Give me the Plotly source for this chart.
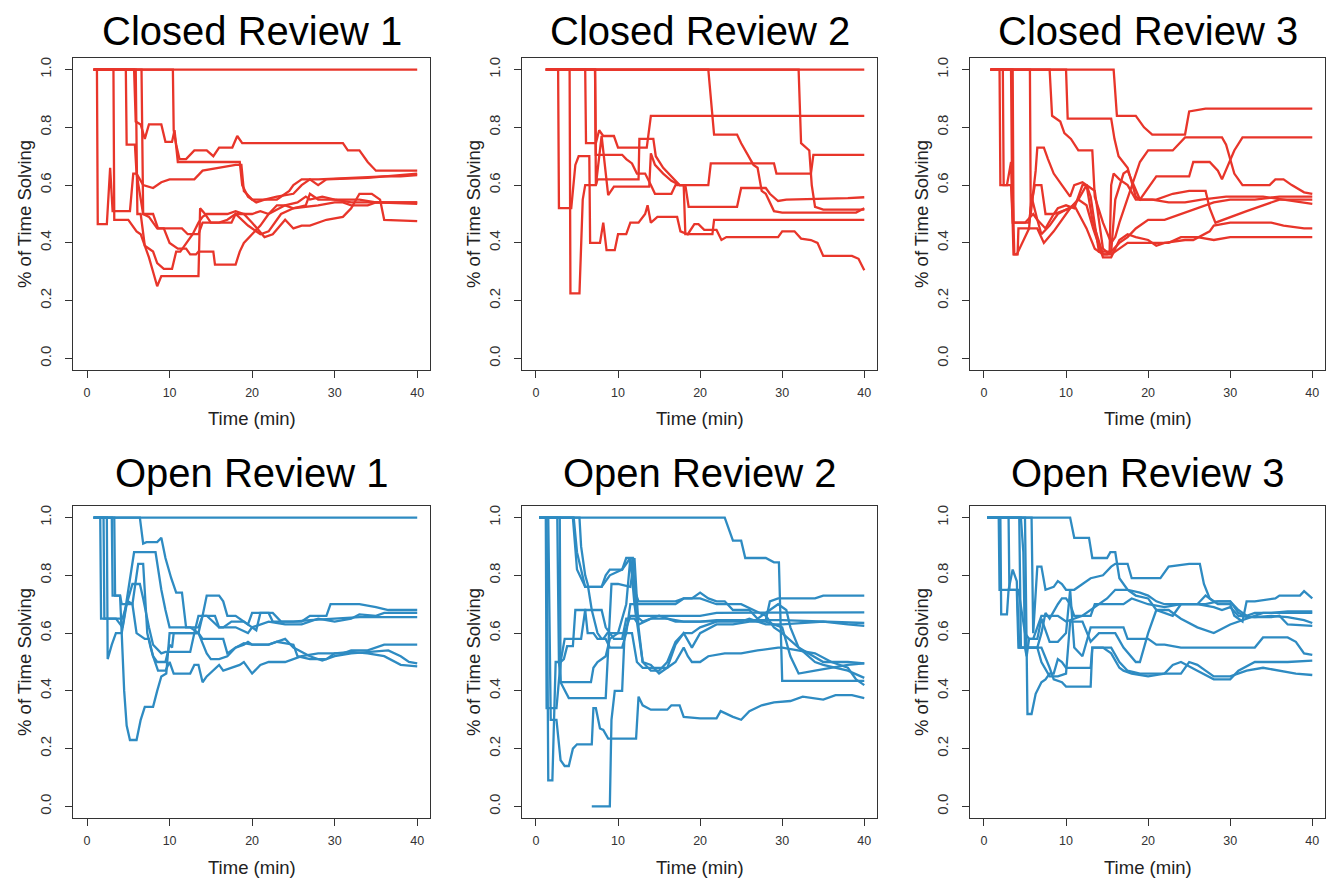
import plotly.graph_objects as go

# ---------------- data: (time in minutes, share of time solving) ----------------
# Closed Review 1
CR1_A_T = [0.8, 40]; CR1_A_V = [1, 1]
CR1_B_T = [0.8,10.4,10.5,10.8,11.2,12.0,13.0,14.5,15.3,16.0,17.6,18.2,18.8,31.0,31.6,33.0,34.0,35.0,40]
CR1_B_V = [1,1,0.79,0.74,0.69,0.69,0.72,0.72,0.70,0.73,0.73,0.77,0.745,0.745,0.72,0.72,0.68,0.65,0.65]
CR1_C_T = [0.8,4.7,4.8,5.8,6.0,6.4,6.8,8.0,9.0,10.0,13.0,14.0,18.0,18.7,19.0,20.0,21.5,23.0,25.0,26.0,27.0,28.0,29.0,34.0,40]
CR1_C_V = [1,1,0.74,0.74,0.64,0.62,0.60,0.59,0.61,0.62,0.62,0.65,0.67,0.67,0.58,0.55,0.55,0.56,0.57,0.60,0.62,0.60,0.62,0.625,0.64]
CR1_D_T = [0.8,5.7,5.9,6.5,7.0,7.5,9.0,9.5,10.3,10.6,11.0,18.5,18.8,19.5,20.5,21.5,23.0,24.5,25.0,26.0,27.0,28.0,36.0,38.0,40]
CR1_D_V = [1,1,0.82,0.81,0.76,0.81,0.81,0.75,0.75,0.79,0.68,0.68,0.60,0.56,0.54,0.55,0.55,0.58,0.60,0.62,0.62,0.62,0.63,0.63,0.635]
CR1_E_T = [0.8,1.2,1.3,2.4,2.8,3.1,5.2,5.6,6.0,6.4,6.8,8.0,8.6,11.5,12.2,13.5,14.0,17.5,18.0,19.5,21.0,22.0,23.5,25.0,26.5,27.0,28.0,30.0,33.0,35.0,36.5,40]
CR1_E_V = [1,1,0.465,0.465,0.66,0.51,0.51,0.64,0.64,0.57,0.50,0.50,0.45,0.45,0.43,0.43,0.47,0.47,0.50,0.46,0.43,0.44,0.50,0.52,0.53,0.57,0.55,0.55,0.55,0.54,0.54,0.54]
CR1_F_T = [0.8,3.2,3.3,5.0,6.0,6.5,7.0,8.0,8.5,9.3,10.3,10.8,11.3,12.0,12.8,13.5,14.0,14.5,16.0,17.0,18.0,19.0,20.0,21.0,22.0,23.0,24.0,25.0,28.0,30.0,31.0,32.0,34.0,35.0,40]
CR1_F_V = [1,1,0.48,0.48,0.44,0.43,0.39,0.37,0.33,0.31,0.31,0.37,0.37,0.40,0.43,0.47,0.49,0.50,0.50,0.50,0.51,0.50,0.50,0.51,0.50,0.53,0.53,0.52,0.53,0.54,0.54,0.53,0.53,0.54,0.535]
CR1_G_T = [0.8,5.9,6.1,6.5,7.0,7.5,8.0,8.5,9.0,13.5,13.7,14.3,15.0,16.0,17.0,18.0,19.0,20.0,21.5,22.5,24.0,25.0,26.0,27.0,29.0,31.0,32.0,33.0,34.5,35.5,36.0,40]
CR1_G_V = [1,1,0.50,0.50,0.39,0.35,0.30,0.25,0.285,0.285,0.52,0.50,0.47,0.47,0.48,0.50,0.50,0.47,0.42,0.43,0.48,0.45,0.46,0.46,0.48,0.49,0.52,0.57,0.57,0.55,0.48,0.475]
CR1_H_T = [0.8,6.6,6.8,7.5,8.5,9.3,10.0,11.0,12.0,12.5,13.2,13.5,15.3,15.5,18.0,18.5,19.0,20.0,21.0,22.0,24.0,25.5,26.5,27.0,28.5,30.0,32.0,34.0,36.0,40]
CR1_H_V = [1,1,0.50,0.49,0.45,0.45,0.40,0.38,0.38,0.36,0.36,0.37,0.37,0.325,0.325,0.37,0.40,0.43,0.46,0.50,0.53,0.54,0.56,0.55,0.56,0.55,0.54,0.54,0.54,0.54]

# Closed Review 2
CR2_A_T = [1.2, 40]; CR2_A_V = [1, 1]
CR2_B_T = [1.2,2.7,2.8,4.3,4.8,5.2,6.5,6.6,7.8,8.2,8.6,9.6,10.0,11.0,11.5,12.5,13.3,13.6,14.0,14.8,17.2,17.6,18.5,19.3,19.8,20.5,22.0,22.6,23.2,29.5,30.0,31.5,32.3,33.5,34.3,35.0,38.5,39.3,40]
CR2_B_V = [1,1,0.52,0.52,0.67,0.70,0.70,0.40,0.40,0.47,0.375,0.375,0.43,0.43,0.47,0.47,0.50,0.53,0.47,0.49,0.49,0.44,0.43,0.465,0.465,0.445,0.445,0.41,0.42,0.42,0.44,0.44,0.415,0.41,0.40,0.355,0.355,0.345,0.305]
CR2_C_T = [1.2,4.1,4.2,5.3,5.7,6.0,7.3,7.5,12.5,12.6,14.3,14.6,15.5,16.5,17.5,21.0,21.3,29.0,29.3,33.5,33.8,40]
CR2_C_V = [1,1,0.225,0.225,0.55,0.60,0.60,0.62,0.62,0.76,0.76,0.70,0.66,0.63,0.60,0.60,0.675,0.675,0.64,0.64,0.705,0.705]
CR2_D_T = [1.2,6.0,6.1,7.3,7.7,8.2,9.5,10.0,13.5,14.0,40]
CR2_D_V = [1,1,0.745,0.745,0.79,0.77,0.77,0.73,0.73,0.84,0.84]
CR2_E_T = [1.2,7.2,7.3,10.5,11.0,11.7,12.3,13.3,14.0,14.5,16.5,17.0,18.2,18.6,24.5,25.0,28.0,28.5,29.5,30.5,38.0,40]
CR2_E_V = [1,1,0.705,0.705,0.69,0.675,0.64,0.64,0.60,0.57,0.57,0.60,0.60,0.525,0.525,0.59,0.59,0.57,0.545,0.55,0.555,0.558]
CR2_F_T = [1.2,21.0,21.7,24.5,25.0,25.5,26.5,27.0,27.5,28.0,29.0,30.0,39.0,40]
CR2_F_V = [1,1,0.775,0.775,0.745,0.72,0.67,0.66,0.58,0.57,0.51,0.505,0.505,0.52]
CR2_G_T = [1.2,32.0,32.3,33.3,33.6,34.0,35.0,40]
CR2_G_V = [1,1,0.745,0.72,0.60,0.525,0.515,0.515]
CR2_H_T = [1.2,7.2,7.3,8.0,8.8,9.5,13.8,14.0,14.5,15.5,16.5,17.5,18.0,18.2,21.5,21.7,40]
CR2_H_V = [1,1,0.60,0.77,0.565,0.595,0.595,0.71,0.67,0.64,0.615,0.60,0.60,0.43,0.43,0.48,0.48]

# Closed Review 3
CR3_A_T = [0.8,15.8,16.2,18.5,19.5,20.5,24.5,25.0,27.0,40]
CR3_A_V = [1,1,0.84,0.84,0.80,0.775,0.775,0.855,0.865,0.865]
CR3_B_T = [0.8,10.0,10.2,15.5,15.9,16.4,17.5,18.5,19.0,21.0,25.0,25.5,27.5,28.5,29.0,30.5,31.5,40]
CR3_B_V = [1,1,0.83,0.83,0.76,0.70,0.66,0.56,0.55,0.63,0.63,0.68,0.68,0.65,0.62,0.72,0.765,0.765]
CR3_C_T = [0.8,8.0,8.3,9.3,9.8,10.6,11.5,13.2,13.5,14.5,15.5,16.0,16.5,18.0,19.0,20.0,21.0,23.0,24.5,27.0,29.0,29.5,30.5,31.5,34.8,35.5,36.5,37.5,39.0,40]
CR3_C_V = [1,1,0.84,0.82,0.78,0.76,0.72,0.72,0.56,0.47,0.40,0.42,0.47,0.60,0.68,0.72,0.72,0.72,0.765,0.765,0.765,0.74,0.64,0.60,0.60,0.62,0.62,0.60,0.575,0.57]
CR3_D_T = [0.8,1.9,2.0,2.8,3.3,3.6,4.1,4.2,5.5,5.8,6.5,7.5,8.5,9.0,10.0,11.0,12.0,12.5,13.2,14.5,15.0,15.5,16.5,17.5,18.5,20.0,22.0,24.0,26.0,28.0,30.0,33.0,36.0,40]
CR3_D_V = [1,1,0.60,0.60,0.68,0.36,0.36,0.45,0.45,0.56,0.48,0.45,0.50,0.52,0.53,0.52,0.60,0.60,0.48,0.36,0.36,0.37,0.40,0.42,0.45,0.48,0.48,0.50,0.52,0.54,0.55,0.55,0.56,0.56]
CR3_E_T = [0.8,3.5,3.6,5.5,5.7,6.2,7.0,7.5,8.5,10.5,11.5,12.5,13.0,14.0,15.5,16.0,17.0,17.5,19.0,21.0,23.0,25.0,27.0,27.5,28.2,30.0,32.0,34.0,36.0,40]
CR3_E_V = [1,1,0.47,0.47,0.52,0.60,0.60,0.50,0.50,0.52,0.55,0.60,0.56,0.37,0.37,0.55,0.64,0.65,0.55,0.55,0.57,0.58,0.58,0.52,0.47,0.49,0.51,0.53,0.55,0.55]
CR3_F_T = [0.8,5.6,5.7,6.3,6.5,7.3,7.8,8.5,9.5,10.5,11.0,12.0,13.0,13.5,14.5,15.3,15.5,15.8,16.5,17.5,18.5,20.5,22.5,24.5,26.5,29.5,31.5,34.0,36.5,40]
CR3_F_V = [1,1,0.50,0.65,0.73,0.73,0.69,0.64,0.60,0.56,0.60,0.61,0.59,0.58,0.38,0.36,0.60,0.64,0.62,0.60,0.55,0.55,0.54,0.54,0.55,0.56,0.56,0.56,0.55,0.535]
CR3_G_T = [0.8,3.3,3.4,3.7,4.0,5.5,6.5,7.3,8.5,9.5,10.5,11.5,12.5,13.3,14.5,15.5,16.5,17.5,18.5,20.0,21.0,22.0,24.5,25.5,27.5,28.0,30.0,32.0,35.0,36.5,39.0,40]
CR3_G_V = [1,1,0.68,0.36,0.36,0.45,0.45,0.40,0.44,0.48,0.52,0.55,0.53,0.45,0.35,0.35,0.41,0.43,0.42,0.41,0.39,0.40,0.41,0.41,0.44,0.46,0.47,0.47,0.47,0.46,0.45,0.45]
CR3_H_T = [0.8,2.3,2.4,3.3,3.5,5.0,6.0,6.5,7.0,8.0,9.0,11.0,12.5,13.5,14.5,15.5,16.5,17.5,19.0,20.0,21.5,22.5,24.0,26.0,28.0,30.0,40]
CR3_H_V = [1,1,0.60,0.60,0.47,0.47,0.50,0.48,0.43,0.46,0.50,0.53,0.45,0.38,0.36,0.36,0.38,0.40,0.40,0.40,0.40,0.40,0.42,0.42,0.41,0.42,0.42]

# Open Review 1
OR1_A_T = [0.8, 40]; OR1_A_V = [1, 1]
OR1_B_T = [0.8,3.3,3.4,4.0,4.2,4.5,4.8,5.2,6.0,6.5,7.0,8.0,8.5,9.0,9.6,10.0,13.0,13.5,14.5,16.0,16.5,17.5,19.0,20.5,21.0,22.5,23.5,26.0,27.0,29.0,29.5,33.0,35.0,36.5,40]
OR1_B_V = [1,1,0.73,0.73,0.60,0.40,0.28,0.23,0.23,0.30,0.345,0.345,0.40,0.45,0.46,0.60,0.60,0.66,0.66,0.62,0.62,0.64,0.64,0.61,0.67,0.67,0.64,0.64,0.66,0.66,0.70,0.70,0.69,0.68,0.68]
OR1_C_T = [0.8,6.4,6.8,7.2,8.5,9.0,9.5,10.2,10.8,11.5,12.0,12.5,13.5,14.0,16.5,17.0,18.0,19.0,19.5,20.0,22.0,23.0,25.0,25.5,27.0,29.0,30.0,31.0,32.0,34.0,36.0,36.5,40]
OR1_C_V = [1,1,0.91,0.915,0.915,0.93,0.86,0.79,0.74,0.74,0.62,0.62,0.60,0.58,0.58,0.53,0.55,0.56,0.57,0.56,0.56,0.57,0.56,0.52,0.51,0.51,0.53,0.53,0.54,0.54,0.56,0.56,0.56]
OR1_D_T = [0.8,2.0,2.1,3.5,4.3,5.0,5.7,8.3,8.6,9.0,9.5,10.0,13.5,14.0,14.5,16.0,16.5,17.0,18.0,19.5,20.0,22.0,22.5,25.0,27.0,30.0,33.0,35.0,40]
OR1_D_V = [1,1,0.65,0.65,0.62,0.75,0.88,0.88,0.82,0.75,0.68,0.62,0.62,0.66,0.73,0.73,0.71,0.66,0.66,0.63,0.67,0.67,0.64,0.64,0.645,0.65,0.655,0.655,0.655]
OR1_E_T = [0.8,1.6,1.7,4.3,5.0,5.5,6.4,6.8,7.5,8.0,9.0,9.5,12.5,13.0,13.5,14.5,15.0,16.0,17.0,18.0,19.0,20.0,22.0,24.0,25.0,27.0,28.5,30.0,32.0,34.0,36.5,38.0,39.0,40]
OR1_E_V = [1,1,0.65,0.65,0.72,0.77,0.77,0.72,0.62,0.56,0.53,0.535,0.535,0.60,0.60,0.53,0.51,0.51,0.52,0.55,0.565,0.56,0.56,0.58,0.55,0.52,0.505,0.52,0.53,0.535,0.54,0.52,0.50,0.495]
OR1_F_T = [0.8,2.4,2.5,3.0,3.5,4.2,4.8,5.0,5.5,6.2,6.8,7.3,7.7,8.0,8.5,9.5,10.0,10.3,10.5,11.0,13.5,14.0,15.5,16.0,18.0,19.5,20.0,22.0,24.0,26.0,28.0,30.0,32.0,33.0,35.0,36.0,40]
OR1_F_V = [1,1,0.51,0.56,0.60,0.60,0.70,0.71,0.70,0.84,0.84,0.60,0.55,0.52,0.50,0.50,0.56,0.55,0.60,0.60,0.60,0.66,0.66,0.62,0.62,0.60,0.62,0.64,0.63,0.63,0.65,0.64,0.65,0.665,0.66,0.67,0.67]
OR1_G_T = [0.8,3.0,3.1,4.0,4.2,5.5,6.0,7.0,7.5,8.0,8.6,9.5,10.0,10.5,12.5,13.0,13.5,14.0,14.5,16.0,16.5,17.5,18.5,19.0,20.0,21.0,22.0,24.0,26.0,28.0,30.0,32.0,34.0,36.0,38.0,40]
OR1_G_V = [1,1,0.73,0.73,0.70,0.70,0.60,0.58,0.58,0.52,0.47,0.47,0.50,0.46,0.46,0.49,0.49,0.43,0.45,0.49,0.47,0.48,0.49,0.50,0.46,0.49,0.50,0.50,0.52,0.53,0.53,0.535,0.53,0.52,0.49,0.485]

# Open Review 2
OR2_A_T = [0.4,23.0,24.0,25.0,25.5,28.0,29.0,29.6,30.0,40]
OR2_A_V = [1,1,0.92,0.92,0.86,0.86,0.845,0.845,0.435,0.435]
OR2_B_T = [0.4,1.2,1.3,2.5,3.0,3.5,4.0,5.5,6.0,8.0,8.5,9.5,10.5,11.0,12.0,12.5,14.0,16.0,18.0,20.0,22.0,24.0,26.0,28.0,28.5,29.5,30.5,34.0,35.0,40]
OR2_B_V = [1,1,0.34,0.34,0.50,0.58,0.58,0.58,0.68,0.68,0.62,0.58,0.58,0.65,0.65,0.63,0.65,0.65,0.64,0.64,0.645,0.645,0.645,0.645,0.71,0.72,0.72,0.72,0.73,0.73]
OR2_C_T = [6.8,9.0,9.2,9.6,10.5,10.8,11.5,15.0,17.5,20.0,22.0,25.0,27.0,30.0,33.0,36.0,40]
OR2_C_V = [0,0,0.30,0.40,0.40,0.60,0.66,0.66,0.66,0.66,0.67,0.67,0.67,0.672,0.672,0.672,0.672]
OR2_D_T = [0.4,1.3,1.5,2.0,2.4,3.0,3.4,3.8,4.5,4.8,6.0,6.3,7.0,7.5,8.2,8.7,10.0,10.5,11.0,11.5,12.0,12.5,15.0,17.0,18.0,19.0,20.0,22.0,25.0,28.0,29.0,30.0,32.0,35.0,38.0,40]
OR2_D_V = [1,1,0.09,0.09,0.50,0.50,0.51,0.555,0.555,0.68,0.68,0.60,0.60,0.58,0.58,0.60,0.60,0.65,0.70,0.86,0.70,0.70,0.70,0.70,0.72,0.72,0.72,0.70,0.70,0.66,0.62,0.60,0.55,0.50,0.50,0.495]
OR2_E_T = [0.4,1.5,1.8,2.0,2.5,3.0,3.5,4.0,4.5,5.0,6.8,7.0,7.3,7.8,8.2,8.8,12.2,12.5,13.0,14.0,16.0,16.5,17.5,18.0,20.0,22.0,22.5,24.0,25.0,26.0,27.5,29.0,31.0,32.5,35.0,36.5,38.5,40]
OR2_E_V = [1,1,0.30,0.30,0.30,0.16,0.14,0.14,0.20,0.215,0.215,0.34,0.34,0.27,0.265,0.235,0.235,0.38,0.35,0.335,0.335,0.35,0.35,0.31,0.305,0.305,0.33,0.31,0.30,0.33,0.35,0.36,0.365,0.38,0.37,0.385,0.385,0.375]
OR2_F_T = [0.4,2.6,2.8,3.0,6.7,7.0,7.5,8.5,9.0,10.0,11.0,11.7,12.3,13.0,15.0,16.0,17.0,18.0,18.5,19.0,20.0,21.0,23.0,25.0,27.0,29.0,29.5,30.0,32.0,34.0,36.0,38.0,39.0,40]
OR2_F_V = [1,1,0.50,0.43,0.43,0.48,0.50,0.52,0.58,0.60,0.60,0.60,0.50,0.48,0.48,0.48,0.50,0.55,0.52,0.50,0.50,0.52,0.53,0.53,0.54,0.55,0.55,0.55,0.54,0.53,0.50,0.48,0.44,0.42]
OR2_G_T = [0.4,2.9,3.0,3.5,4.0,8.5,8.8,9.2,9.6,10.0,11.5,12.0,12.5,13.0,14.0,15.0,16.0,17.0,18.0,19.0,20.0,22.0,24.0,26.0,28.0,29.0,30.0,31.0,32.0,34.0,36.0,38.0,40]
OR2_G_V = [1,1,0.43,0.40,0.375,0.375,0.55,0.77,0.77,0.77,0.76,0.86,0.62,0.50,0.49,0.46,0.48,0.56,0.60,0.55,0.60,0.63,0.63,0.64,0.64,0.63,0.62,0.52,0.46,0.47,0.48,0.49,0.495]
OR2_H_T = [0.4,4.5,5.0,6.0,8.0,8.5,9.0,10.5,11.0,11.8,12.2,13.0,15.0,17.0,20.0,25.0,30.0,35.0,40]
OR2_H_V = [1,1,0.82,0.76,0.76,0.80,0.82,0.82,0.86,0.86,0.66,0.64,0.66,0.64,0.64,0.645,0.645,0.64,0.635]
OR2_I_T = [0.4,5.3,5.5,6.0,6.3,6.8,7.5,8.0,8.5,9.0,9.5,10.5,11.0,11.5,12.0,13.0,14.0,15.0,16.0,17.0,18.0,19.0,20.0,21.0,22.0,24.0,25.0,26.0,27.0,28.0,30.0,35.0,38.0,40]
OR2_I_V = [1,1,0.90,0.80,0.77,0.68,0.60,0.58,0.58,0.55,0.55,0.55,0.60,0.70,0.70,0.50,0.47,0.47,0.50,0.57,0.60,0.60,0.62,0.63,0.64,0.64,0.64,0.65,0.64,0.63,0.63,0.64,0.63,0.625]
OR2_J_T = [0.4,4.6,5.0,5.7,6.0,8.0,9.0,10.5,11.5,12.0,12.5,17.0,18.0,19.0,20.0,21.0,22.0,23.0,24.0,26.0,27.0,28.5,29.5,30.5,31.0,32.0,34.0,35.0,38.0,40]
OR2_J_V = [1,1,0.88,0.80,0.76,0.76,0.80,0.82,0.86,0.75,0.71,0.71,0.72,0.72,0.74,0.72,0.71,0.71,0.68,0.68,0.65,0.68,0.70,0.68,0.62,0.55,0.50,0.49,0.47,0.445]

# Open Review 3
OR3_A_T = [0.4,10.5,11.0,12.8,13.2,15.0,15.4,16.0,16.5,17.5,19.0,20.0,21.0,22.0,23.0,24.0,25.0,27.0,28.5,30.0,31.0,32.0,33.0,35.0,37.0,40]
OR3_A_V = [1,1,0.93,0.93,0.86,0.86,0.88,0.88,0.79,0.75,0.74,0.73,0.71,0.70,0.70,0.70,0.70,0.70,0.71,0.71,0.68,0.66,0.67,0.67,0.675,0.675]
OR3_B_T = [0.4,5.8,6.0,6.5,7.0,7.5,8.5,9.0,9.5,10.0,11.0,12.0,13.0,14.5,15.5,16.0,17.5,18.0,21.5,22.5,24.0,25.0,26.3,26.8,27.5,28.5,30.0,30.5,31.5,32.0,33.0,35.5,36.0,38.5,39.0,40]
OR3_B_V = [1,1,0.60,0.83,0.83,0.75,0.76,0.78,0.77,0.75,0.75,0.77,0.79,0.80,0.83,0.84,0.84,0.79,0.79,0.83,0.835,0.84,0.84,0.77,0.72,0.70,0.70,0.66,0.64,0.71,0.71,0.72,0.73,0.73,0.745,0.72]
OR3_C_T = [0.4,2.0,2.1,2.8,3.0,3.5,4.0,4.3,6.5,7.0,7.5,8.0,9.0,9.5,10.0,10.5,11.0,13.0,13.5,17.0,18.0,20.0,22.0,24.0,26.0,28.0,29.0,30.0,31.0,33.0,35.0,37.0,39.0,40]
OR3_C_V = [1,1,0.665,0.665,0.75,0.82,0.78,0.55,0.55,0.60,0.67,0.65,0.70,0.72,0.72,0.70,0.66,0.66,0.70,0.70,0.72,0.70,0.69,0.70,0.70,0.69,0.68,0.69,0.66,0.655,0.66,0.655,0.645,0.635]
OR3_D_T = [0.4,1.8,1.9,4.2,5.0,5.5,6.0,7.0,9.0,10.0,12.0,14.0,15.0,16.0,17.5,18.5,20.0,21.0,23.0,24.0,26.0,27.0,28.0,30.0,31.0,32.0,35.0,36.0,37.0,40]
OR3_D_V = [1,1,0.75,0.75,0.60,0.58,0.58,0.66,0.66,0.64,0.66,0.70,0.72,0.75,0.75,0.73,0.72,0.68,0.66,0.70,0.70,0.73,0.71,0.71,0.67,0.655,0.655,0.66,0.63,0.625]
OR3_E_T = [0.4,4.5,4.8,5.0,5.2,5.5,6.5,7.0,8.0,9.0,10.0,10.5,11.0,12.0,13.0,17.0,17.5,20.0,21.0,22.0,24.0,28.0,29.0,33.0,34.0,37.0,38.0,39.0,40]
OR3_E_V = [1,1,0.88,0.55,0.52,0.58,0.58,0.65,0.57,0.57,0.60,0.75,0.55,0.52,0.62,0.62,0.58,0.58,0.56,0.56,0.55,0.55,0.55,0.55,0.585,0.585,0.57,0.53,0.525]
OR3_F_T = [0.4,3.0,3.1,4.0,4.2,5.0,6.5,7.0,8.0,9.0,10.0,10.5,12.0,13.0,14.0,16.0,17.0,18.5,19.0,20.0,21.0,22.5,24.0,26.0,28.0,30.0,32.0,34.0,40]
OR3_F_V = [1,1,0.75,0.75,0.55,0.55,0.55,0.50,0.45,0.45,0.46,0.64,0.64,0.57,0.60,0.60,0.55,0.50,0.50,0.60,0.68,0.68,0.65,0.62,0.60,0.63,0.65,0.67,0.67]
OR3_G_T = [0.4,5.0,5.3,5.8,6.3,7.0,7.5,8.0,8.5,9.0,9.5,10.0,13.0,13.2,15.5,16.5,17.5,19.0,20.0,22.0,23.0,24.0,26.0,28.0,30.0,31.0,33.0,35.0,37.0,40]
OR3_G_V = [1,1,0.32,0.32,0.39,0.43,0.44,0.46,0.46,0.51,0.50,0.48,0.48,0.55,0.55,0.50,0.47,0.46,0.46,0.46,0.49,0.50,0.47,0.44,0.44,0.47,0.50,0.50,0.50,0.505]
OR3_H_T = [0.4,4.3,4.5,5.0,6.0,7.0,8.0,8.5,9.5,10.0,13.0,13.2,14.5,15.5,16.5,17.0,18.0,20.0,22.0,24.0,25.0,26.0,27.0,28.0,30.0,32.0,34.0,36.0,38.0,40]
OR3_H_V = [1,1,0.55,0.55,0.55,0.55,0.48,0.44,0.43,0.415,0.415,0.55,0.55,0.53,0.48,0.47,0.46,0.45,0.46,0.46,0.50,0.49,0.47,0.45,0.45,0.47,0.48,0.47,0.46,0.455]

PANEL_TITLES = ["Closed Review 1", "Closed Review 2", "Closed Review 3",
                "Open Review 1", "Open Review 2", "Open Review 3"]
X_TICKS = [0, 10, 20, 30, 40]
Y_TICKS = [0.0, 0.2, 0.4, 0.6, 0.8, 1.0]
Y_TICK_LABELS = ["0.0", "0.2", "0.4", "0.6", "0.8", "1.0"]
X_LABEL = "Time (min)"
Y_LABEL = "% of Time Solving"

RED = "#e8352a"
BLUE = "#2e8bc2"

panels = [
    [(CR1_A_T, CR1_A_V), (CR1_B_T, CR1_B_V), (CR1_C_T, CR1_C_V), (CR1_D_T, CR1_D_V),
     (CR1_E_T, CR1_E_V), (CR1_F_T, CR1_F_V), (CR1_G_T, CR1_G_V), (CR1_H_T, CR1_H_V)],
    [(CR2_A_T, CR2_A_V), (CR2_B_T, CR2_B_V), (CR2_C_T, CR2_C_V), (CR2_D_T, CR2_D_V),
     (CR2_E_T, CR2_E_V), (CR2_F_T, CR2_F_V), (CR2_G_T, CR2_G_V), (CR2_H_T, CR2_H_V)],
    [(CR3_A_T, CR3_A_V), (CR3_B_T, CR3_B_V), (CR3_C_T, CR3_C_V), (CR3_D_T, CR3_D_V),
     (CR3_E_T, CR3_E_V), (CR3_F_T, CR3_F_V), (CR3_G_T, CR3_G_V), (CR3_H_T, CR3_H_V)],
    [(OR1_A_T, OR1_A_V), (OR1_B_T, OR1_B_V), (OR1_C_T, OR1_C_V), (OR1_D_T, OR1_D_V),
     (OR1_E_T, OR1_E_V), (OR1_F_T, OR1_F_V), (OR1_G_T, OR1_G_V)],
    [(OR2_A_T, OR2_A_V), (OR2_B_T, OR2_B_V), (OR2_C_T, OR2_C_V), (OR2_D_T, OR2_D_V),
     (OR2_E_T, OR2_E_V), (OR2_F_T, OR2_F_V), (OR2_G_T, OR2_G_V), (OR2_H_T, OR2_H_V),
     (OR2_I_T, OR2_I_V), (OR2_J_T, OR2_J_V)],
    [(OR3_A_T, OR3_A_V), (OR3_B_T, OR3_B_V), (OR3_C_T, OR3_C_V), (OR3_D_T, OR3_D_V),
     (OR3_E_T, OR3_E_V), (OR3_F_T, OR3_F_V), (OR3_G_T, OR3_G_V), (OR3_H_T, OR3_H_V)],
]

# ---------------- layout geometry (pixels of the 1327x879 page) ----------------
W, H = 1327, 879
COL_X = [(73, 430), (522, 877), (970, 1325)]
ROW_Y = [(58, 370), (506, 818)]
TITLE_Y = [31, 473]
XLAB_Y = [418, 867]

FONT = "Liberation Sans, Arial, Helvetica, sans-serif"
INK = "#333333"

fig = go.Figure()
layout = dict(
    width=W, height=H,
    margin=dict(l=0, r=0, t=0, b=0),
    paper_bgcolor="white", plot_bgcolor="white",
    showlegend=False,
    font=dict(family=FONT, color=INK),
    annotations=[],
)

for i, series in enumerate(panels):
    r, c = divmod(i, 3)
    color = RED if r == 0 else BLUE
    n = "" if i == 0 else str(i + 1)
    xa, ya = "x" + n, "y" + n
    for t, v in series:
        fig.add_trace(go.Scatter(x=t, y=v, mode="lines", xaxis=xa, yaxis=ya,
                                 line=dict(color=color, width=2.3),
                                 hoverinfo="skip"))
    x0, x1 = COL_X[c]
    y0, y1 = ROW_Y[r]
    layout["xaxis" + n] = dict(
        domain=[x0 / W, x1 / W], anchor=ya, range=[-1.7, 41.55],
        tickvals=X_TICKS, ticks="outside", ticklen=7, tickcolor=INK, tickwidth=1,
        showline=True, linecolor=INK, linewidth=1, mirror=True,
        showgrid=False, zeroline=False, ticklabelstandoff=4,
        tickfont=dict(size=12.5, color=INK, family=FONT),
    )
    layout["yaxis" + n] = dict(
        domain=[1 - y1 / H, 1 - y0 / H], anchor=xa, range=[-0.04, 1.04],
        tickvals=Y_TICKS, ticktext=Y_TICK_LABELS, tickangle=-90,
        ticks="outside", ticklen=7, tickcolor=INK, tickwidth=1,
        showline=True, linecolor=INK, linewidth=1, mirror=True,
        showgrid=False, zeroline=False, ticklabelstandoff=8,
        tickfont=dict(size=15, color=INK, family=FONT),
    )
    cx = (x0 + x1) / 2
    layout["annotations"].append(dict(
        text=PANEL_TITLES[i], x=cx / W, y=1 - TITLE_Y[r] / H, xref="paper", yref="paper",
        xanchor="center", yanchor="middle", showarrow=False,
        font=dict(size=40, color="black", family=FONT)))
    layout["annotations"].append(dict(
        text=X_LABEL, x=cx / W, y=1 - XLAB_Y[r] / H, xref="paper", yref="paper",
        xanchor="center", yanchor="middle", showarrow=False,
        font=dict(size=18.5, color="#222222", family=FONT)))
    layout["annotations"].append(dict(
        text=Y_LABEL, x=(x0 - 49) / W, y=1 - ((y0 + y1) / 2) / H, xref="paper", yref="paper",
        xanchor="center", yanchor="middle", showarrow=False, textangle=-90,
        font=dict(size=18.5, color="#222222", family=FONT)))

fig.update_layout(**layout)
fig.write_html("out.html",
               config={"displayModeBar": False},
               post_script="document.body.style.margin='0';document.body.style.overflow='hidden';")
